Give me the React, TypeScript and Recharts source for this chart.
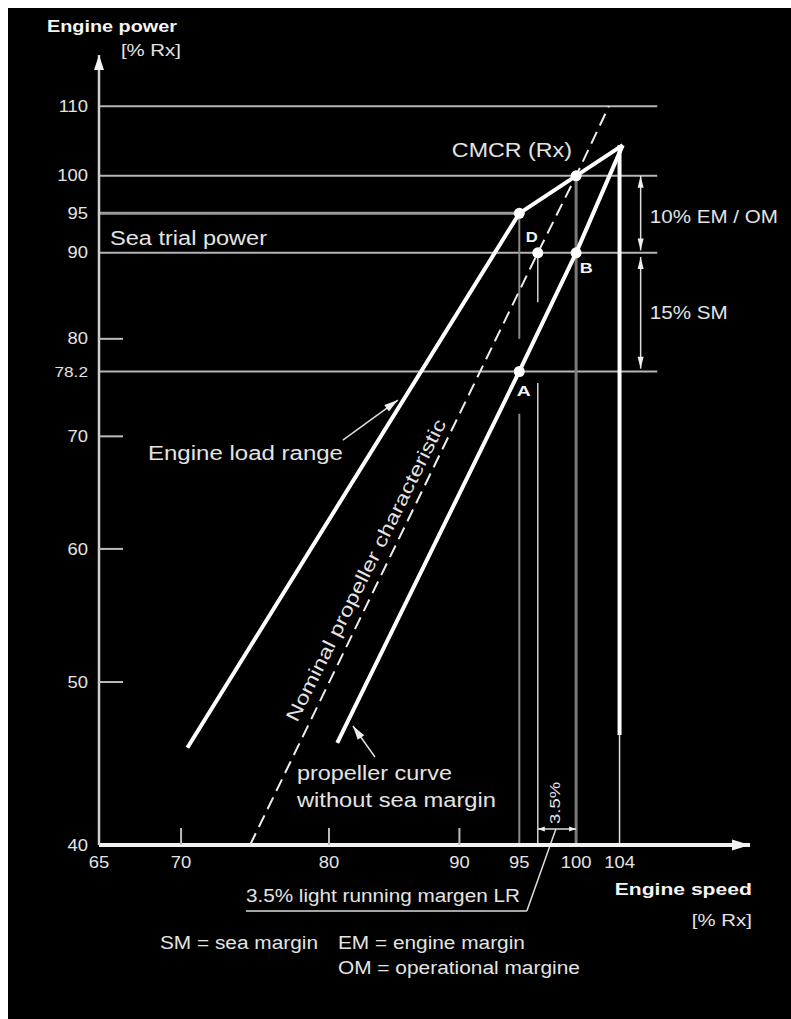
import React from 'react';
import {
  ComposedChart,
  Line,
  Scatter,
  XAxis,
  YAxis,
  ReferenceLine,
  ReferenceDot,
} from 'recharts';

// ---------- data (engine speed n [% Rx], engine power p [% Rx]) ----------
const speedTicks = [65, 70, 80, 90, 95, 100, 104];
const speedTickLabels = ['65', '70', '80', '90', '95', '100', '104'];
const speedTickMarks = [70, 80, 90];

const powerTicks = [40, 50, 60, 70, 76.5, 80, 90, 95, 100, 110];
const powerTickLabels = ['40', '50', '60', '70', '78.2', '80', '90', '95', '100', '110'];
const powerTickMarks = [50, 60, 70, 80];

const engineLoadRange = [
  { n: 70.4, p: 45.7 },
  { n: 95, p: 95 },
  { n: 100, p: 100 },
  { n: 104.3, p: 104.3 },
];
const propellerNoSeaMargin = [
  { n: 80.6, p: 46 },
  { n: 95, p: 76.5 },
  { n: 100, p: 90 },
  { n: 104.3, p: 104.3 },
];
const nominalPropeller = [
  { n: 74.5, p: 40 },
  { n: 96.6, p: 90 },
  { n: 100, p: 100 },
  { n: 103, p: 110 },
];
const markedPoints = [
  { n: 95, p: 95 },
  { n: 100, p: 100 },
  { n: 96.6, p: 90 },
  { n: 100, p: 90 },
  { n: 95, p: 76.5 },
];
const fullPowerLevels = [110, 100, 90, 76.5];
const gridEndSpeed = 107.6;

// ---------- text annotations (anchored in data space) ----------
type Note = {
  text: string;
  n: number;
  p: number;
  size: number;
  w: number;
  bold?: boolean;
  anchor?: 'start' | 'middle' | 'end';
  rotate?: number;
};
const notes: Note[] = [
  { text: 'Engine power', n: 62.02, p: 122.7, size: 17, w: 130, bold: true },
  { text: '[% Rx]', n: 66.3, p: 118.8, size: 16, w: 60 },
  { text: 'CMCR (Rx)', n: 89.39, p: 103.57, size: 20, w: 120 },
  { text: 'Sea trial power', n: 65.65, p: 91.82, size: 20, w: 157 },
  { text: 'D', n: 95.56, p: 91.95, size: 15, w: 12, bold: true },
  { text: 'B', n: 100.34, p: 88.12, size: 15, w: 13, bold: true },
  { text: 'A', n: 94.79, p: 74.47, size: 15, w: 14, bold: true },
  { text: '10% EM / OM', n: 106.88, p: 94.62, size: 18, w: 128 },
  { text: '15% SM', n: 106.88, p: 82.86, size: 18, w: 78 },
  { text: 'Engine load range', n: 67.94, p: 68.41, size: 20, w: 195 },
  { text: 'propeller curve', n: 77.72, p: 44.14, size: 20, w: 155 },
  { text: 'without sea margin', n: 77.72, p: 42.54, size: 20, w: 199 },
  { text: 'Nominal propeller characteristic', n: 82.71, p: 58.28, size: 19, w: 335, anchor: 'middle', rotate: -63.5 },
  { text: '3.5%', n: 98.1, p: 42.37, size: 15, w: 42, anchor: 'middle', rotate: -90 },
  { text: '3.5% light running margen LR', n: 74.22, p: 37.3, size: 18, w: 274 },
  { text: 'Engine speed', n: 117.19, p: 37.66, size: 17, w: 137, bold: true, anchor: 'end' },
  { text: '[% Rx]', n: 117.19, p: 36.1, size: 16, w: 60, anchor: 'end' },
  { text: 'SM = sea margin', n: 68.68, p: 34.98, size: 18, w: 158 },
  { text: 'EM = engine margin', n: 80.65, p: 34.98, size: 18, w: 187 },
  { text: 'OM = operational margine', n: 80.65, p: 33.8, size: 18, w: 242 },
];

const TXT = '#e4e4e4';
const FONT = '"Liberation Sans", Arial, Helvetica, sans-serif';

const makeText = (t: Note) => (props: any) => {
  const { cx, cy } = props;
  return (
    <text
      x={cx}
      y={cy}
      dy={t.size * 0.35}
      textAnchor={t.anchor || 'start'}
      fontSize={t.size}
      fontWeight={t.bold ? 700 : 400}
      fontFamily={FONT}
      fill={t.bold ? '#f4f4f4' : TXT}
      textLength={t.w}
      lengthAdjust="spacingAndGlyphs"
      transform={t.rotate ? `rotate(${t.rotate} ${cx} ${cy})` : undefined}
    >
      {t.text}
    </text>
  );
};

const arrowHead = (angle: number, len: number, wid: number, color = '#eeeeee') => (props: any) => {
  const { cx, cy } = props;
  const a = (angle * Math.PI) / 180;
  const bx = cx - len * Math.cos(a);
  const by = cy - len * Math.sin(a);
  const px = (-Math.sin(a) * wid) / 2;
  const py = (Math.cos(a) * wid) / 2;
  return <polygon points={`${cx},${cy} ${bx + px},${by + py} ${bx - px},${by - py}`} fill={color} />;
};

const XTick = (props: any) => {
  const { x, y, payload } = props;
  const v = payload.value;
  const i = speedTicks.indexOf(v);
  const label = i >= 0 ? speedTickLabels[i] : String(v);
  return (
    <g>
      {speedTickMarks.includes(v) && (
        <line x1={x} x2={x} y1={y} y2={y - 17} stroke="#bdbdbd" strokeWidth={2} />
      )}
      <text
        transform={`translate(${x} ${y + 23}) scale(1.15 1)`}
        textAnchor="middle"
        fontSize={16}
        fontFamily={FONT}
        fill={TXT}
      >
        {label}
      </text>
    </g>
  );
};

const YTick = (props: any) => {
  const { x, y, payload } = props;
  const v = payload.value;
  const i = powerTicks.indexOf(v);
  const label = i >= 0 ? powerTickLabels[i] : String(v);
  return (
    <g>
      {powerTickMarks.includes(v) && (
        <line x1={x} x2={x + 24} y1={y} y2={y} stroke="#bdbdbd" strokeWidth={2} />
      )}
      <text
        transform={`translate(${x - 11} ${y + 5.6}) scale(1.15 1)`}
        textAnchor="end"
        fontSize={label.length > 3 ? 15 : 16}
        fontFamily={FONT}
        fill={TXT}
      >
        {label}
      </text>
    </g>
  );
};

const seg = (n1: number, p1: number, n2: number, p2: number) => [
  { x: n1, y: p1 },
  { x: n2, y: p2 },
];

export default function App() {
  return (
    <div
      style={{
        position: 'absolute',
        left: 8,
        top: 8,
        width: 783,
        height: 1011,
        background: '#000',
      }}
    >
      <ComposedChart
        width={783}
        height={1011}
        margin={{ top: 47, right: 41, bottom: 144, left: 31 }}
      >
        <XAxis
          type="number"
          dataKey="n"
          scale="log"
          domain={[65, 117]}
          allowDataOverflow
          ticks={speedTicks}
          interval={0}
          tickSize={0}
          tickMargin={0}
          tickLine={false}
          tick={<XTick />}
          height={30}
          axisLine={{ stroke: '#f2f2f2', strokeWidth: 4 }}
        />
        <YAxis
          type="number"
          dataKey="p"
          scale="log"
          domain={[40, 118]}
          allowDataOverflow
          ticks={powerTicks}
          interval={0}
          tickSize={0}
          tickMargin={0}
          tickLine={false}
          tick={<YTick />}
          width={60}
          axisLine={{ stroke: '#cfcfcf', strokeWidth: 2.5 }}
        />

        {/* horizontal power levels */}
        {fullPowerLevels.map((p) => (
          <ReferenceLine
            key={'h' + p}
            segment={seg(65, p, gridEndSpeed, p)}
            stroke="#b5b5b5"
            strokeWidth={2}
            ifOverflow="visible"
          />
        ))}
        <ReferenceLine segment={seg(65, 95, 95, 95)} stroke="#9a9a9a" strokeWidth={3} ifOverflow="visible" />

        {/* vertical speed lines */}
        <ReferenceLine segment={seg(95, 95, 95, 80)} stroke="#8a8a8a" strokeWidth={2} ifOverflow="visible" />
        <ReferenceLine segment={seg(95, 72.2, 95, 40)} stroke="#8a8a8a" strokeWidth={2} ifOverflow="visible" />
        <ReferenceLine segment={seg(96.6, 90, 96.6, 84.1)} stroke="#d0d0d0" strokeWidth={1.5} ifOverflow="visible" />
        <ReferenceLine segment={seg(96.6, 75.3, 96.6, 40)} stroke="#d0d0d0" strokeWidth={1.5} ifOverflow="visible" />
        <ReferenceLine segment={seg(100, 100, 100, 40)} stroke="#7a7a7a" strokeWidth={3} ifOverflow="visible" />
        <ReferenceLine segment={seg(104, 104.3, 104, 46.5)} stroke="#ffffff" strokeWidth={4} ifOverflow="visible" />
        <ReferenceLine segment={seg(104, 46.5, 104, 40)} stroke="#dddddd" strokeWidth={1.5} ifOverflow="visible" />

        {/* dimension arrows EM/OM and SM */}
        <ReferenceLine segment={seg(106, 100, 106, 90.3)} stroke="#dddddd" strokeWidth={1.5} ifOverflow="visible" />
        <ReferenceLine segment={seg(106, 89.5, 106, 76.8)} stroke="#dddddd" strokeWidth={1.5} ifOverflow="visible" />
        <ReferenceDot x={106} y={100} ifOverflow="visible" shape={arrowHead(-90, 12, 6)} />
        <ReferenceDot x={106} y={90.3} ifOverflow="visible" shape={arrowHead(90, 12, 6)} />
        <ReferenceDot x={106} y={89.5} ifOverflow="visible" shape={arrowHead(-90, 12, 6)} />
        <ReferenceDot x={106} y={76.8} ifOverflow="visible" shape={arrowHead(90, 12, 6)} />

        {/* 3.5 % light running bracket and leader */}
        <ReferenceLine segment={seg(96.6, 40.89, 100, 40.89)} stroke="#dddddd" strokeWidth={1.5} ifOverflow="visible" />
        <ReferenceDot x={96.6} y={40.89} ifOverflow="visible" shape={arrowHead(180, 7, 5)} />
        <ReferenceDot x={100} y={40.89} ifOverflow="visible" shape={arrowHead(0, 7, 5)} />
        <ReferenceLine segment={seg(98.19, 40.89, 95.65, 36.54)} stroke="#dddddd" strokeWidth={1.5} ifOverflow="visible" />
        <ReferenceLine segment={seg(95.65, 36.54, 74.22, 36.54)} stroke="#dddddd" strokeWidth={1.5} ifOverflow="visible" />

        {/* leader arrows */}
        <ReferenceLine segment={seg(81.01, 69.64, 85.14, 73.56)} stroke="#dddddd" strokeWidth={1.5} ifOverflow="visible" />
        <ReferenceDot x={85.14} y={73.56} ifOverflow="visible" shape={arrowHead(-36, 14, 8)} />
        <ReferenceLine segment={seg(83.39, 45.12, 81.75, 47.08)} stroke="#dddddd" strokeWidth={1.5} ifOverflow="visible" />
        <ReferenceDot x={81.75} y={47.08} ifOverflow="visible" shape={arrowHead(-125, 14, 8)} />

        {/* curves */}
        <Line
          data={nominalPropeller}
          dataKey="p"
          type="linear"
          stroke="#eeeeee"
          strokeWidth={2}
          strokeDasharray="13 7"
          dot={false}
          activeDot={false}
          isAnimationActive={false}
        />
        <Line
          data={engineLoadRange}
          dataKey="p"
          type="linear"
          stroke="#ffffff"
          strokeWidth={4}
          dot={false}
          activeDot={false}
          isAnimationActive={false}
        />
        <Line
          data={propellerNoSeaMargin}
          dataKey="p"
          type="linear"
          stroke="#ffffff"
          strokeWidth={4}
          dot={false}
          activeDot={false}
          isAnimationActive={false}
        />
        <Scatter
          data={markedPoints}
          isAnimationActive={false}
          shape={(p: any) => <circle cx={p.cx} cy={p.cy} r={5.5} fill="#ffffff" />}
        />

        {/* axis arrowheads */}
        <ReferenceDot x={117} y={40} ifOverflow="visible" shape={arrowHead(0, 18, 11, '#f2f2f2')} />
        <ReferenceDot x={65} y={118} ifOverflow="visible" shape={arrowHead(-90, 15, 10, '#f2f2f2')} />

        {/* texts */}
        {notes.map((t, i) => (
          <ReferenceDot key={'t' + i} x={t.n} y={t.p} ifOverflow="visible" shape={makeText(t)} />
        ))}
      </ComposedChart>
    </div>
  );
}
